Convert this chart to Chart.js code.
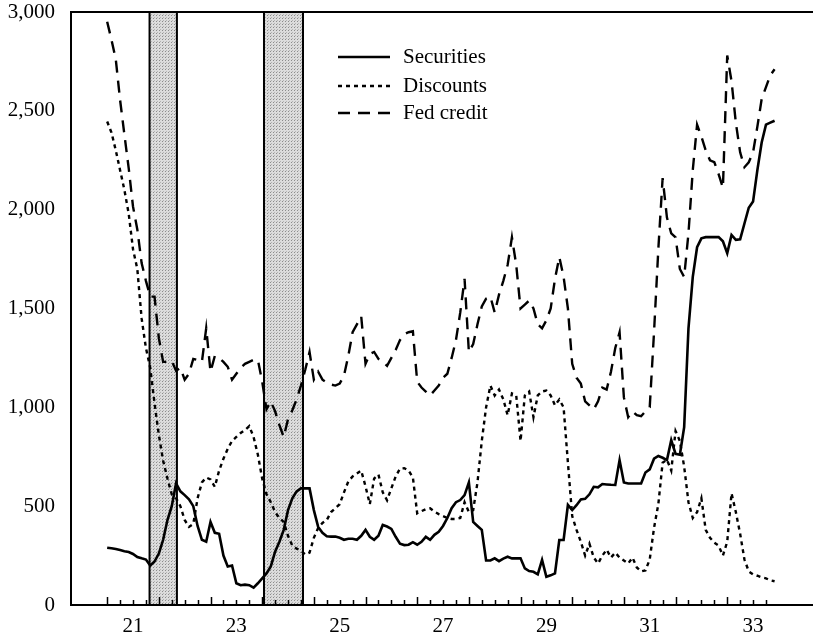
<!DOCTYPE html>
<html>
<head>
<meta charset="utf-8">
<style>
  html, body { margin: 0; padding: 0; background: #ffffff; }
  #wrap { width: 813px; height: 635px; }
</style>
<script src="https://cdn.jsdelivr.net/npm/chart.js@4.4.1/dist/chart.umd.min.js"></script>
</head>
<body>
<div id="wrap"><canvas id="chart" width="813" height="635"></canvas></div>
<script>
// Federal Reserve credit, monthly, millions of dollars.
// Axis unit is the year; label "21" sits at mid-1921, so January 1921 is 20.5.
const firstMonth = 20.5;

const securities = [
  290, 287, 283, 278, 272, 268, 258, 243, 236, 230,
  200, 220, 260, 330, 430, 500, 615, 575, 556, 535,
  500, 400, 330, 320, 420, 365, 360, 250, 195, 200,
  110, 100, 103, 100, 88, 110, 135, 160, 195, 270,
  320, 380, 480, 540, 575, 590, 590, 590, 480, 395,
  365, 348, 346, 346, 340, 330, 335, 335, 330, 350,
  380, 345, 330, 350, 405, 397, 385, 345, 310, 303,
  305, 318, 305, 320, 345, 330, 355, 370, 400, 440,
  490, 520, 531, 556, 620, 420, 400, 380, 225, 225,
  236, 222, 235, 244, 236, 236, 236, 185, 172, 168,
  155, 228, 143, 150, 160, 329, 329, 506, 480, 505,
  534, 537, 560, 598, 595, 612, 610, 608, 607, 733,
  620, 615, 615, 615, 615, 670, 686, 740, 754, 745,
  733, 834, 765, 760, 900, 1400, 1660, 1810, 1855, 1861,
  1861, 1861, 1861, 1840, 1780, 1872, 1847, 1850, 1930, 2010,
  2041, 2200, 2340, 2430, 2440, 2450
];

const discounts = [
  2446, 2390, 2300, 2200, 2100, 1980, 1800, 1700, 1450, 1300,
  1200, 1020, 860, 730, 640, 560, 540, 500, 430, 395,
  410, 540, 620, 645, 635, 598, 680, 740, 790, 830,
  850, 870, 885, 905, 850, 760, 640, 560, 520, 470,
  440, 420, 350, 300, 285, 275, 255, 265, 340, 390,
  415, 430, 470, 490, 510, 570, 625, 650, 665, 680,
  600, 510, 640, 660, 570, 530, 590, 650, 690, 692,
  680, 645, 464, 475, 485, 489, 472, 460, 450, 440,
  435, 435, 440, 520, 470, 480, 620, 830, 1000, 1110,
  1060, 1090, 1040, 960, 1070, 1060, 830, 1060, 1080, 950,
  1060, 1080, 1085, 1060, 1010, 1040, 1000, 720, 450, 380,
  320, 250, 310, 240, 210, 250, 280, 240, 265, 240,
  225, 210, 240, 190, 170, 175, 230, 390, 510, 720,
  735, 680, 880, 830, 700, 520, 440, 470, 540, 380,
  340, 315, 300, 250, 320, 565, 470, 360, 230, 170,
  155, 148, 140, 135, 125, 120
];

const fedCredit = [
  2951, 2860, 2760, 2555, 2380, 2210, 2016, 1900, 1730, 1640,
  1560, 1560, 1350, 1230, 1230, 1235, 1185, 1200, 1140, 1170,
  1245, 1240, 1230, 1400, 1180, 1260, 1250, 1230, 1205, 1140,
  1170, 1200, 1220, 1230, 1240, 1240, 1130, 990, 1030, 980,
  910, 850, 940, 985, 1040, 1110, 1190, 1280, 1140, 1180,
  1140, 1125, 1115, 1110, 1120, 1160, 1260, 1380, 1420, 1460,
  1220, 1270, 1280, 1245, 1230, 1210, 1250, 1290, 1340, 1370,
  1380, 1385, 1130, 1100, 1080, 1060, 1085, 1110, 1150, 1170,
  1250, 1340, 1480, 1650, 1280, 1320, 1420, 1510, 1550, 1560,
  1480, 1570, 1640, 1720, 1860, 1720, 1500, 1520, 1540, 1500,
  1420, 1400, 1440, 1500, 1650, 1760, 1660, 1500, 1220, 1150,
  1120, 1030, 1010, 990, 1030, 1100, 1090, 1180, 1300, 1380,
  1050, 950, 980, 960, 955, 980, 1000, 1380, 1800, 2160,
  1960, 1880, 1860, 1700, 1660, 1880, 2200, 2430, 2370, 2300,
  2250, 2240, 2180, 2110, 2780, 2650, 2440, 2290, 2215, 2240,
  2290, 2420, 2560, 2620, 2680, 2710
];

const seriesNames = ['Securities', 'Discounts', 'Fed credit'];
const yearLabels = [21, 23, 25, 27, 29, 31, 33];
const valueTicks = [0, 500, 1000, 1500, 2000, 2500, 3000];
// Shaded recession periods, in axis years
const recessionStarts = [21.32, 23.535];
const recessionEnds = [21.85, 24.29];
// Quarterly tick marks along the time axis
const quarterTickFirst = 20.5;
const quarterTickLast = 33.25;

const months = securities.map((_, i) => firstMonth + i / 12);
const toPoints = (values) => values.map((v, i) => ({ x: months[i], y: v }));

const serifFont = '"Liberation Serif", "Times New Roman", serif';

function stipplePattern(ctx) {
  const p = document.createElement('canvas');
  p.width = 3; p.height = 3;
  const g = p.getContext('2d');
  g.fillStyle = '#dcdcdc';
  g.fillRect(0, 0, 3, 3);
  g.fillStyle = '#8c8c8c';
  g.fillRect(0, 0, 1, 1);
  g.fillStyle = '#b4b4b4';
  g.fillRect(1, 2, 1, 1);
  return ctx.createPattern(p, 'repeat');
}

const recessionBands = {
  id: 'recessionBands',
  beforeDatasetsDraw(chart) {
    const { ctx, chartArea: a, scales: { x } } = chart;
    ctx.save();
    const fill = stipplePattern(ctx);
    recessionStarts.forEach((s, k) => {
      const x0 = x.getPixelForValue(s);
      const x1 = x.getPixelForValue(recessionEnds[k]);
      ctx.fillStyle = fill;
      ctx.fillRect(x0, a.top, x1 - x0, a.bottom - a.top);
      ctx.strokeStyle = '#000';
      ctx.lineWidth = 2;
      ctx.beginPath();
      ctx.moveTo(x0, a.top); ctx.lineTo(x0, a.bottom);
      ctx.moveTo(x1, a.top); ctx.lineTo(x1, a.bottom);
      ctx.stroke();
    });
    ctx.restore();
  }
};

const frameAndTicks = {
  id: 'frameAndTicks',
  afterDatasetsDraw(chart) {
    const { ctx, chartArea: a, scales: { x } } = chart;
    ctx.save();
    ctx.strokeStyle = '#000';
    ctx.lineWidth = 2;
    ctx.beginPath();
    ctx.moveTo(a.right, a.top);
    ctx.lineTo(a.left, a.top);
    ctx.lineTo(a.left, a.bottom);
    ctx.lineTo(a.right, a.bottom);
    ctx.stroke();
    ctx.lineWidth = 1.5;
    ctx.beginPath();
    for (let q = quarterTickFirst; q <= quarterTickLast + 1e-9; q += 0.25) {
      const px = Math.round(x.getPixelForValue(q)) + 0.5;
      const isYearEdge = Math.abs((q % 1) - 0.5) < 1e-6;
      const len = isYearEdge ? 8 : 5;
      ctx.moveTo(px, a.bottom);
      ctx.lineTo(px, a.bottom - len);
    }
    ctx.stroke();
    ctx.restore();
  }
};

const lineKey = {
  id: 'lineKey',
  afterDraw(chart) {
    const { ctx } = chart;
    const x0 = 338, x1 = 390, textX = 403;
    const rows = [57, 86, 113];
    ctx.save();
    chart.data.datasets.forEach((ds, k) => {
      const y = rows[k];
      ctx.strokeStyle = '#000';
      ctx.lineWidth = ds.borderWidth;
      ctx.setLineDash(ds.borderDash || []);
      ctx.beginPath();
      ctx.moveTo(x0, y);
      ctx.lineTo(x1, y);
      ctx.stroke();
      ctx.setLineDash([]);
      ctx.fillStyle = '#000';
      ctx.font = '21px ' + serifFont;
      ctx.textAlign = 'left';
      ctx.textBaseline = 'middle';
      ctx.fillText(ds.label, textX, y);
    });
    ctx.restore();
  }
};

new Chart(document.getElementById('chart'), {
  type: 'line',
  data: {
    datasets: [
      { label: seriesNames[0], data: toPoints(securities), borderColor: '#000', borderWidth: 2.6, borderDash: [] },
      { label: seriesNames[1], data: toPoints(discounts), borderColor: '#000', borderWidth: 2.4, borderDash: [4, 4] },
      { label: seriesNames[2], data: toPoints(fedCredit), borderColor: '#000', borderWidth: 2.4, borderDash: [12, 8] }
    ]
  },
  options: {
    responsive: false,
    animation: false,
    devicePixelRatio: 1,
    layout: { padding: { top: 12, right: 0, left: 0, bottom: 0 } },
    elements: {
      point: { radius: 0 },
      line: { tension: 0, fill: false, borderCapStyle: 'butt', borderJoinStyle: 'miter' }
    },
    plugins: { legend: { display: false }, tooltip: { enabled: false } },
    scales: {
      x: {
        type: 'linear',
        min: 19.8,
        max: 34.16,
        grid: { display: false, drawTicks: false },
        border: { display: false },
        ticks: {
          color: '#000',
          font: { family: serifFont, size: 21 },
          padding: 9,
          autoSkip: false,
          maxRotation: 0,
          callback: (v) => String(v)
        },
        afterBuildTicks: (scale) => { scale.ticks = yearLabels.map((v) => ({ value: v })); },
        afterFit: (scale) => {
          scale.height = 30;
          scale.paddingLeft = 0;
          scale.paddingRight = 0;
        }
      },
      y: {
        min: 0,
        max: 3000,
        grid: { display: false, drawTicks: false },
        border: { display: false },
        ticks: {
          color: '#000',
          font: { family: serifFont, size: 21 },
          padding: 16,
          callback: (v) => v.toLocaleString('en-US')
        },
        afterBuildTicks: (scale) => { scale.ticks = valueTicks.map((v) => ({ value: v })); },
        afterFit: (scale) => {
          scale.width = 71;
          scale.paddingTop = 0;
          scale.paddingBottom = 0;
        }
      }
    }
  },
  plugins: [recessionBands, frameAndTicks, lineKey]
});
</script>
</body>
</html>
